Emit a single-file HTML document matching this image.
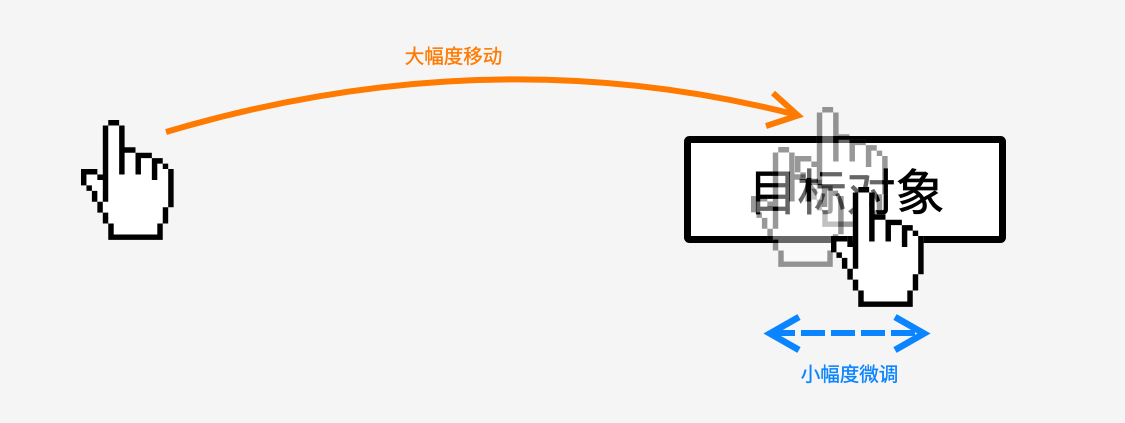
<!DOCTYPE html>
<html><head><meta charset="utf-8"><style>
html,body{margin:0;padding:0;background:#f5f5f5}
body{width:1125px;height:423px;overflow:hidden;position:relative}
svg{position:absolute;left:0;top:0}
text{font-family:"Liberation Sans","Noto Sans CJK SC",sans-serif;text-anchor:middle}
</style></head><body>
<svg width="1125" height="423" viewBox="0 0 1125 423">
<defs>
<g id="hand">
<path fill="#fff" d="M5 0H7V5H10V6H13V7H15V8H16V9H17V16H16V19H15V21H5V19H4V17H3V15H2V13H1V12H0V9H3V10H4V1H5Z"/>
<path fill="#000" d="M5 0h2v1h-2z M4 1h1v14h-1z M7 1h1v9h-1z M8 5h2v1h-2z M10 6h3v1h-3z M10 7h1v3h-1z M13 7h2v1h-2z M13 8h1v3h-1z M15 8h1v1h-1z M16 9h1v7h-1z M15 16h1v3h-1z M14 19h1v2h-1z M5 19h1v2h-1z M5 21h10v1h-10z M4 17h1v2h-1z M3 15h1v2h-1z M2 13h1v2h-1z M1 12h1v1h-1z M0 9h3v1h-3z M0 10h1v2h-1z M3 10h1v1h-1z"/>
</g>
</defs>
<rect x="687.500" y="139.500" width="315" height="100" rx="2" fill="#fff" stroke="#000" stroke-width="7"/>
<text x="846.500" y="210" font-size="49" fill="#000" stroke="#000" stroke-width="0.700">目标对象</text>
<use href="#hand" transform="translate(795 107) scale(5.45)" opacity="0.4"/>
<use href="#hand" transform="translate(751 147) scale(5.45)" opacity="0.4"/>
<use href="#hand" transform="translate(831 187) scale(5.45)"/>
<use href="#hand" transform="translate(81 120) scale(5.45)"/>
<path d="M166 132Q490 36 797 115" fill="none" stroke="#ff7a00" stroke-width="6"/>
<path d="M773 93L798 115.500L766 126" fill="none" stroke="#ff7a00" stroke-width="6"/>
<text x="453.500" y="63" font-size="19.500" fill="#ff7a00" stroke="#ff7a00" stroke-width="0.350">大幅度移动</text>
<path d="M771 333H921" fill="none" stroke="#0a84ff" stroke-width="6" stroke-dasharray="24 6"/>
<path d="M799 317L770 333.500L799 350" fill="none" stroke="#0a84ff" stroke-width="6.500"/>
<path d="M895 317L924 333.500L895 350" fill="none" stroke="#0a84ff" stroke-width="6.500"/>
<text x="849.500" y="381" font-size="19.500" fill="#0a84ff" stroke="#0a84ff" stroke-width="0.350">小幅度微调</text>
</svg>
</body></html>
